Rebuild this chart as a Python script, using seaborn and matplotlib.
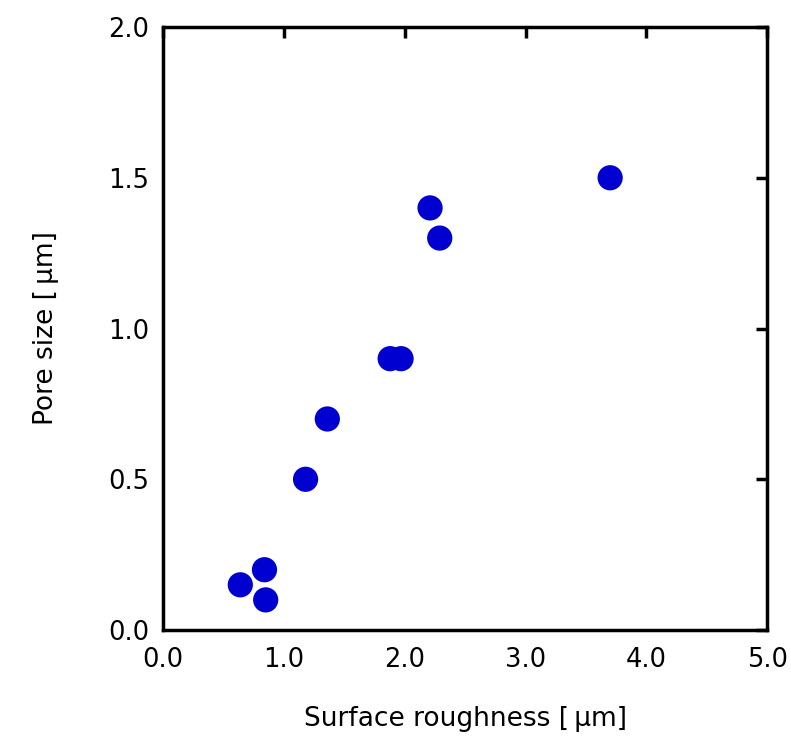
import matplotlib
matplotlib.use("Agg")
import matplotlib.pyplot as plt
import seaborn as sns
import pandas as pd

# Surface roughness vs pore size measurements
roughness = [0.64, 0.84, 0.85, 1.18, 1.36, 1.88, 1.97, 2.21, 2.29, 3.70]
pore_size = [0.15, 0.20, 0.10, 0.50, 0.70, 0.90, 0.90, 1.40, 1.30, 1.50]
x_ticks = [0.0, 1.0, 2.0, 3.0, 4.0, 5.0]
y_ticks = [0.0, 0.5, 1.0, 1.5, 2.0]

df = pd.DataFrame({"roughness": roughness, "pore": pore_size})

sns.set_theme(style="white")
plt.rcParams["font.family"] = ["DejaVu Sans", "Noto Sans CJK JP"]

fig = plt.figure(figsize=(7.91, 7.40), dpi=100)
ax = fig.add_axes([0.206, 0.1486, 0.764, 0.8149])

sns.scatterplot(data=df, x="roughness", y="pore", ax=ax, s=330,
                color="#0000d0", edgecolor="none", legend=False, zorder=3)

ax.set_xlim(0, 5)
ax.set_ylim(0, 2)
ax.set_xticks(x_ticks)
ax.set_yticks(y_ticks)
ax.set_xticklabels([f"{v:.1f}" for v in x_ticks])
ax.set_yticklabels([f"{v:.1f}" for v in y_ticks])

ax.tick_params(direction="in", length=8, width=2.5, top=True, right=True,
               labelsize=18.5, colors="black")
ax.tick_params(axis="x", pad=12)
ax.tick_params(axis="y", pad=10)
for side in ["left", "right", "top", "bottom"]:
    ax.spines[side].set_visible(True)
    ax.spines[side].set_color("black")
    ax.spines[side].set_linewidth(2.5)

ax.set_xlabel("Surface roughness [\u2009\u03bcm]", fontsize=19, labelpad=24, color="black")
ax.set_ylabel("Pore size [\u2009\u03bcm]", fontsize=19, labelpad=35, color="black")

fig.savefig("out.png", dpi=100, facecolor="white")
